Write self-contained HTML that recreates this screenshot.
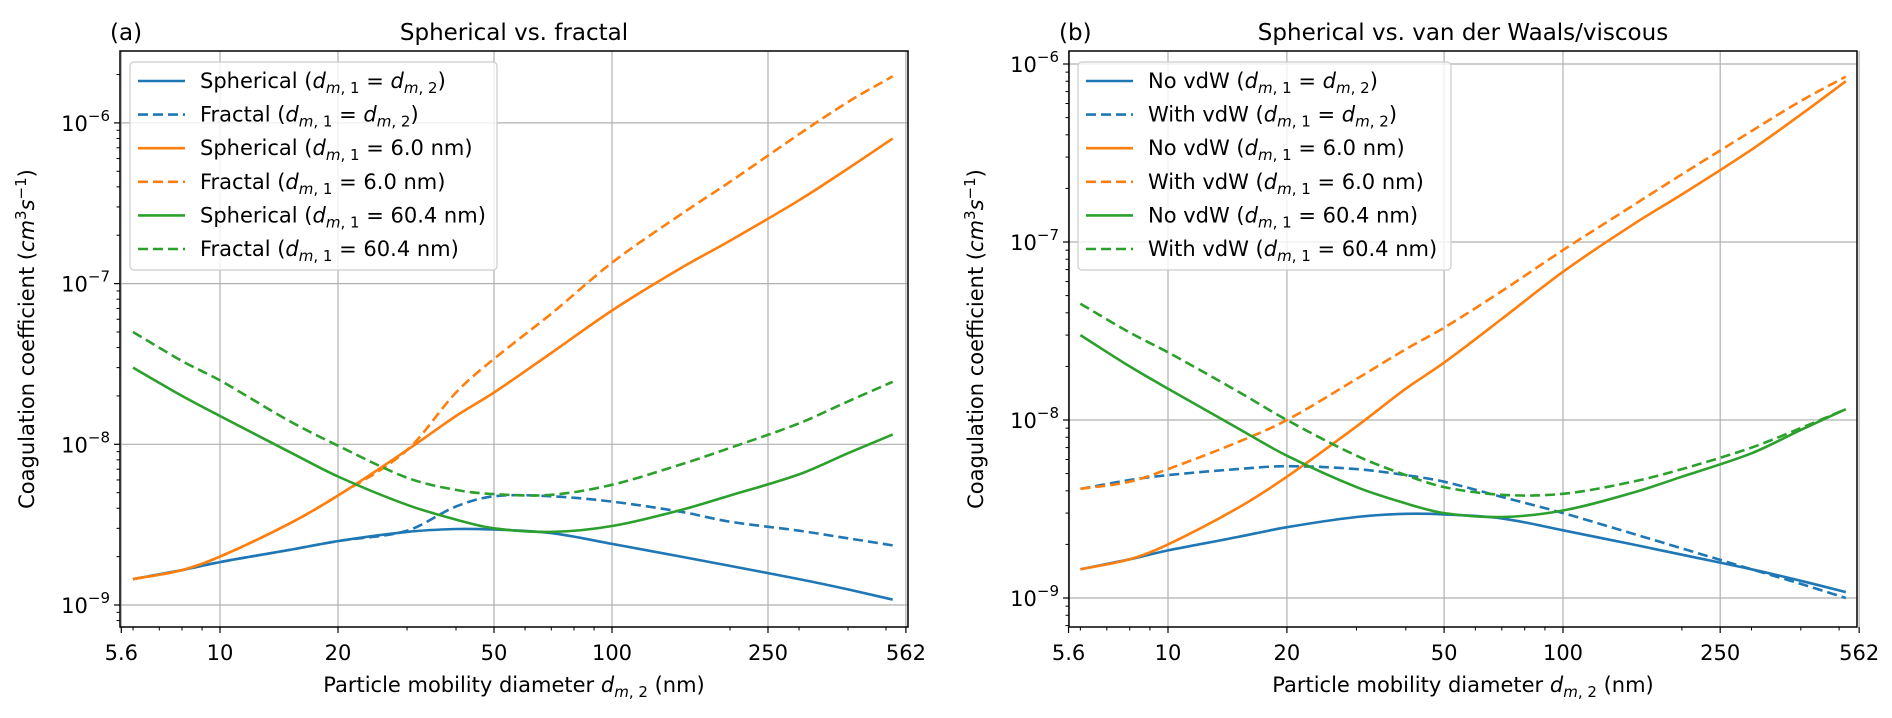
<!DOCTYPE html>
<html><head><meta charset="utf-8"><style>
body{margin:0;background:#fff}
svg text{font-family:"DejaVu Sans","Liberation Sans",sans-serif;fill:#000}
</style></head><body>
<svg id="fig" width="1892" height="713" viewBox="0 0 1892 713" xmlns="http://www.w3.org/2000/svg"></svg>
<script>
const xs = [6,8,10,15,20,30,40,50,70,100,150,200,300,400,520];
const sphSame = [1.45e-9,1.65e-9,1.85e-9,2.2e-9,2.5e-9,2.85e-9,2.97e-9,2.95e-9,2.8e-9,2.4e-9,2.0e-9,1.75e-9,1.45e-9,1.25e-9,1.08e-9];
const fracSame = [1.45e-9,1.65e-9,1.85e-9,2.2e-9,2.5e-9,2.9e-9,4.1e-9,4.75e-9,4.75e-9,4.4e-9,3.8e-9,3.3e-9,2.9e-9,2.6e-9,2.35e-9];
const sph6 = [1.45e-9,1.65e-9,2.0e-9,3.2e-9,4.8e-9,9.2e-9,1.5e-8,2.1e-8,3.7e-8,6.8e-8,1.25e-7,1.85e-7,3.3e-7,5.2e-7,8.0e-7];
const frac6 = [1.45e-9,1.65e-9,2.0e-9,3.2e-9,4.8e-9,9.2e-9,2.1e-8,3.4e-8,6.5e-8,1.35e-7,2.7e-7,4.3e-7,8.5e-7,1.35e-6,1.95e-6];
const sph60 = [3.0e-8,2.0e-8,1.5e-8,9.0e-9,6.3e-9,4.2e-9,3.4e-9,3.0e-9,2.85e-9,3.1e-9,3.9e-9,4.8e-9,6.5e-9,8.8e-9,1.15e-8];
const frac60 = [5.0e-8,3.3e-8,2.5e-8,1.4e-8,9.8e-9,6.2e-9,5.2e-9,4.9e-9,4.85e-9,5.6e-9,7.5e-9,9.5e-9,1.35e-8,1.85e-8,2.45e-8];
const vdwSame = [4.1e-9,4.6e-9,4.9e-9,5.3e-9,5.5e-9,5.3e-9,4.9e-9,4.5e-9,3.7e-9,3.0e-9,2.3e-9,1.9e-9,1.45e-9,1.2e-9,1.0e-9];
const vdw6 = [4.1e-9,4.5e-9,5.3e-9,7.5e-9,1.0e-8,1.7e-8,2.5e-8,3.3e-8,5.3e-8,9.0e-8,1.6e-7,2.4e-7,4.2e-7,6.2e-7,8.5e-7];
const vdw60 = [4.5e-8,3.1e-8,2.4e-8,1.45e-8,1.0e-8,6.3e-9,4.9e-9,4.2e-9,3.8e-9,3.85e-9,4.5e-9,5.3e-9,7.0e-9,9.0e-9,1.15e-8];
const xTicks = [5.6,10,20,50,100,250,562];
const xMinor = [6,7,8,9,30,40,60,70,80,90,200,300,400,500];
const yTicks = [-9,-8,-7,-6];
const legA = ["Spherical","Fractal","Spherical","Fractal","Spherical","Fractal"];
const legB = ["No vdW","With vdW","No vdW","With vdW","No vdW","With vdW"];
const legTail = ["same","same","6.0","6.0","60.4","60.4"];
const colors = ["#1f77b4","#1f77b4","#ff7f0e","#ff7f0e","#2ca02c","#2ca02c"];

const NS="http://www.w3.org/2000/svg", svg=document.getElementById('fig');
function mk(tag,at,parent){const e=document.createElementNS(NS,tag);for(const k in at)e.setAttribute(k,at[k]);(parent||svg).appendChild(e);return e;}

function panel(cfg){
  const {L,R,T,B,x10,xdec,y9,ydec,tag,title,series,legNames,lg,name}=cfg;
  const g=mk('g',{});
  
  
  const X=v=>x10+xdec*Math.log10(v/10);
  const Y=v=>y9-ydec*(Math.log10(v)+9);
  xTicks.forEach(t=>{const l=mk('line',{x1:X(t),x2:X(t),y1:T,y2:B,stroke:'#b0b0b0','stroke-width':1.2},g);
    });
  yTicks.forEach(t=>{const y=Y(Math.pow(10,t));const l=mk('line',{x1:L,x2:R,y1:y,y2:y,stroke:'#b0b0b0','stroke-width':1.2},g);
    });
  const clip=mk('clipPath',{id:'c'+name},g);mk('rect',{x:L,y:T,width:R-L,height:B-T},clip);
  series.forEach((s,i)=>{
    const pts=xs.map((x,j)=>[X(x),Y(s[j])]);
    const n=pts.length;
    const m=pts.map((p,j)=>{const a=pts[Math.max(0,j-1)],b=pts[Math.min(n-1,j+1)];return (b[1]-a[1])/(b[0]-a[0]);});
    let d='M'+pts[0][0].toFixed(1)+','+pts[0][1].toFixed(1);
    for(let j=0;j<n-1;j++){
      const p1=pts[j],p2=pts[j+1],dx=(p2[0]-p1[0])/3;
      d+=`C${(p1[0]+dx).toFixed(1)},${(p1[1]+m[j]*dx).toFixed(1)} ${(p2[0]-dx).toFixed(1)},${(p2[1]-m[j+1]*dx).toFixed(1)} ${p2[0].toFixed(1)},${p2[1].toFixed(1)}`;
    }
    const p=mk('path',{d,fill:'none',stroke:colors[i],'stroke-width':2.6,'stroke-dasharray':i%2?'10,5':'none','clip-path':`url(#c${name})`},g);
    
    
  });
  mk('rect',{x:L,y:T,width:R-L,height:B-T,fill:'none',stroke:'#000','stroke-width':1.5},g);
  xTicks.forEach(t=>{mk('line',{x1:X(t),x2:X(t),y1:B,y2:B+6,stroke:'#000','stroke-width':1.2},g);
    const tx=mk('text',{x:X(t),y:660,'font-size':21,'text-anchor':'middle'},g);tx.textContent=t;
    });
  xMinor.forEach(t=>mk('line',{x1:X(t),x2:X(t),y1:B,y2:B+3.5,stroke:'#000','stroke-width':1},g));
  yTicks.forEach(t=>{const y=Y(Math.pow(10,t));mk('line',{x1:L-6,x2:L,y1:y,y2:y,stroke:'#000','stroke-width':1.2},g);
    const tx=mk('text',{x:L-10,y:y+8,'font-size':21,'text-anchor':'end'},g);
    
    tx.innerHTML=`10<tspan dy="-10" font-size="15">−${-t}</tspan>`;});
  for(let e=-10;e<=-6;e++)for(let mm=2;mm<=9;mm++){const y=Y(mm*Math.pow(10,e));if(y>T&&y<B)mk('line',{x1:L-3.5,x2:L,y1:y,y2:y,stroke:'#000','stroke-width':1},g);}
  let t=mk('text',{x:L-10,y:40,'font-size':23},g);t.textContent=tag;
  t=mk('text',{x:(L+R)/2,y:40,'font-size':23,'text-anchor':'middle'},g);t.textContent=title;
  t=mk('text',{x:(L+R)/2,y:692,'font-size':21,'text-anchor':'middle'},g);
  t.innerHTML='Particle mobility diameter <tspan font-style="italic">d</tspan><tspan dy="5" font-size="15" font-style="italic">m</tspan><tspan dy="0" font-size="15">, 2</tspan><tspan dy="-5"> (nm)</tspan>';
  
  const yl=cfg.ylx;
  t=mk('text',{x:0,y:0,'font-size':21,'text-anchor':'middle',transform:`translate(${yl},339) rotate(-90)`},g);
  t.innerHTML='Coagulation coefficient (<tspan font-style="italic">cm</tspan><tspan dy="-8" font-size="15">3</tspan><tspan dy="8" font-style="italic">s</tspan><tspan dy="-8" font-size="15">−1</tspan><tspan dy="8">)</tspan>';
  
  const lgd=mk('g',{},g);
  mk('rect',{x:lg.x,y:62,width:lg.w,height:208,rx:4,fill:'#fff','fill-opacity':0.8,stroke:'#ccc','stroke-width':1.2},lgd);
  legNames.forEach((n,i)=>{const y=81+i*33.6;
    mk('line',{x1:lg.x+8,x2:lg.x+55,y1:y,y2:y,stroke:colors[i],'stroke-width':2.6,'stroke-dasharray':i%2?'10,5':'none'},lgd);
    const tx=mk('text',{x:lg.x+70,y:y+7,'font-size':21},lgd);
    
    const tail=legTail[i]==='same'?'<tspan font-style="italic">d</tspan><tspan dy="5" font-size="15" font-style="italic">m</tspan><tspan font-size="15">, 2</tspan><tspan dy="-5">)</tspan>':`${legTail[i]} nm)`;
    tx.innerHTML=`${n} (<tspan font-style="italic">d</tspan><tspan dy="5" font-size="15" font-style="italic">m</tspan><tspan font-size="15">, 1</tspan><tspan dy="-5"> = </tspan>`+tail;});
}
panel({name:'panel-a',L:120,R:908,T:51,B:627,x10:220,xdec:392,y9:605,ydec:160.7,tag:'(a)',title:'Spherical vs. fractal',
  series:[sphSame,fracSame,sph6,frac6,sph60,frac60],legNames:legA,lg:{x:130,w:367},ylx:34});
panel({name:'panel-b',L:1069,R:1857,T:51,B:627,x10:1168,xdec:395,y9:598,ydec:178,tag:'(b)',title:'Spherical vs. van der Waals/viscous',
  series:[sphSame,vdwSame,sph6,vdw6,sph60,vdw60],legNames:legB,lg:{x:1078,w:373},ylx:983});
</script>
</body></html>
